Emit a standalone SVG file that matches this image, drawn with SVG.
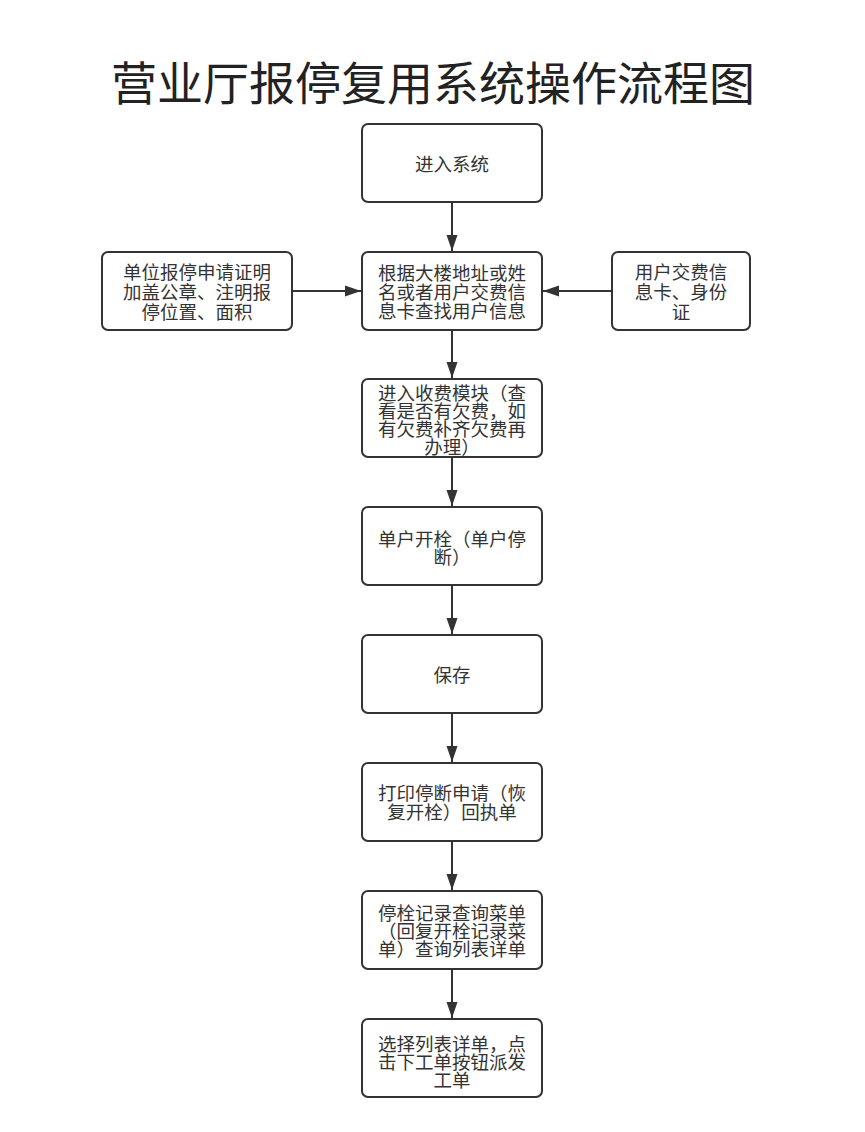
<svg xmlns="http://www.w3.org/2000/svg" width="865" height="1132" viewBox="0 0 865 1132">
<style>
.box{fill:#fff;stroke:#333;stroke-width:2}
.t{font-family:"Noto Sans CJK SC","Noto Sans",sans-serif;font-size:18.5px;fill:#333;text-anchor:middle;dominant-baseline:central}
.title{font-family:"Noto Sans CJK SC","Noto Sans",sans-serif;font-size:46px;fill:#222;text-anchor:middle;dominant-baseline:central}
.ln{stroke:#333;stroke-width:2;fill:none}
</style>
<defs>
<marker id="ah" markerWidth="16" markerHeight="12" refX="16" refY="6" orient="auto" markerUnits="userSpaceOnUse">
<path d="M0,0.5 L16,6 L0,11.5 Z" fill="#333"/>
</marker>
</defs>
<rect width="865" height="1132" fill="#fff"/>
<text class="title" x="433" y="80">营业厅报停复用系统操作流程图</text>
<g id="connectors">
<line class="ln" x1="452" y1="202" x2="452" y2="251" marker-end="url(#ah)"/>
<line class="ln" x1="292" y1="291" x2="361" y2="291" marker-end="url(#ah)"/>
<line class="ln" x1="612" y1="291" x2="543" y2="291" marker-end="url(#ah)"/>
<line class="ln" x1="452" y1="330" x2="452" y2="378" marker-end="url(#ah)"/>
<line class="ln" x1="452" y1="457" x2="452" y2="506" marker-end="url(#ah)"/>
<line class="ln" x1="452" y1="585" x2="452" y2="634" marker-end="url(#ah)"/>
<line class="ln" x1="452" y1="713" x2="452" y2="762" marker-end="url(#ah)"/>
<line class="ln" x1="452" y1="841" x2="452" y2="890" marker-end="url(#ah)"/>
<line class="ln" x1="452" y1="969" x2="452" y2="1018" marker-end="url(#ah)"/>
</g>
<g id="n1"><rect class="box" x="362" y="124" width="180" height="78" rx="6"/>
<text class="t" x="452" y="163">进入系统</text></g>
<g id="n2"><rect class="box" x="362" y="252" width="180" height="78" rx="6"/>
<text class="t" x="452" y="272">根据大楼地址或姓</text>
<text class="t" x="452" y="291">名或者用户交费信</text>
<text class="t" x="452" y="310">息卡查找用户信息</text></g>
<g id="nL"><rect class="box" x="102" y="252" width="190" height="78" rx="6"/>
<text class="t" x="197" y="271">单位报停申请证明</text>
<text class="t" x="197" y="291">加盖公章、注明报</text>
<text class="t" x="197" y="311">停位置、面积</text></g>
<g id="nR"><rect class="box" x="612" y="252" width="138" height="78" rx="6"/>
<text class="t" x="681" y="271">用户交费信</text>
<text class="t" x="681" y="291">息卡、身份</text>
<text class="t" x="681" y="311">证</text></g>
<g id="n3"><rect class="box" x="362" y="379" width="180" height="78" rx="6"/>
<text class="t" x="452" y="392">进入收费模块（查</text>
<text class="t" x="452" y="410">看是否有欠费，如</text>
<text class="t" x="452" y="428">有欠费补齐欠费再</text>
<text class="t" x="452" y="446">办理）</text></g>
<g id="n4"><rect class="box" x="362" y="507" width="180" height="78" rx="6"/>
<text class="t" x="452" y="538">单户开栓（单户停</text>
<text class="t" x="452" y="556">断）</text></g>
<g id="n5"><rect class="box" x="362" y="635" width="180" height="78" rx="6"/>
<text class="t" x="452" y="674">保存</text></g>
<g id="n6"><rect class="box" x="362" y="763" width="180" height="78" rx="6"/>
<text class="t" x="452" y="792">打印停断申请（恢</text>
<text class="t" x="452" y="811">复开栓）回执单</text></g>
<g id="n7"><rect class="box" x="362" y="891" width="180" height="78" rx="6"/>
<text class="t" x="452" y="912">停栓记录查询菜单</text>
<text class="t" x="452" y="930">（回复开栓记录菜</text>
<text class="t" x="452" y="948">单）查询列表详单</text></g>
<g id="n8"><rect class="box" x="362" y="1019" width="180" height="78" rx="6"/>
<text class="t" x="452" y="1043">选择列表详单，点</text>
<text class="t" x="452" y="1061">击下工单按钮派发</text>
<text class="t" x="452" y="1079">工单</text></g>
</svg>
